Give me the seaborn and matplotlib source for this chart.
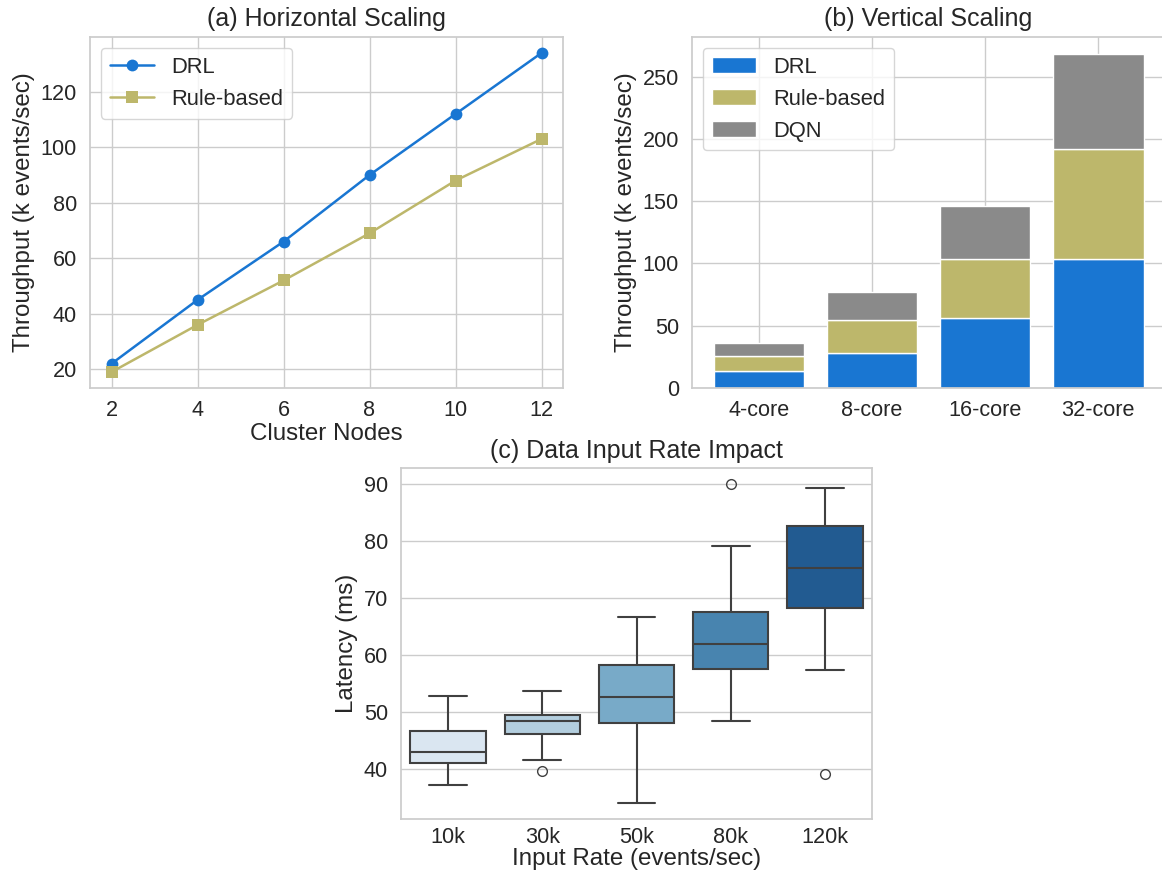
import numpy as np
import pandas as pd
import matplotlib
matplotlib.use("Agg")
import matplotlib.pyplot as plt
import seaborn as sns

# ---- data ----
nodes = [2, 4, 6, 8, 10, 12]
drl_h = [22, 45, 66, 90, 112, 134]
rule_h = [19, 36, 52, 69, 88, 103]

cores = ["4-core", "8-core", "16-core", "32-core"]
drl_v = [14, 28.5, 56, 104]
rule_v = [11.5, 26.5, 48, 88]
dqn_v = [10.5, 22, 42.5, 76.5]

rates = ["10k", "30k", "50k", "80k", "120k"]
lat_10k = [37.3, 39.5, 41.2, 42.0, 43.0, 45.0, 46.8, 50.0, 52.8]
lat_30k = [39.7, 41.6, 46.2, 47.5, 48.5, 49.0, 49.6, 51.5, 53.7]
lat_50k = [34.1, 44.0, 48.2, 50.5, 52.6, 55.5, 58.2, 62.0, 66.7]
lat_80k = [48.4, 53.0, 57.5, 60.0, 61.9, 65.0, 67.65, 79.1, 90.0]
lat_120k = [39.2, 57.4, 68.3, 72.0, 75.2, 79.0, 82.6, 86.0, 89.3]

c_drl = "#1976D2"
c_rule = "#BDB76B"
c_dqn = "#8A8A8A"

sns.set_theme(style="whitegrid", font_scale=1.4)
plt.rcParams["font.family"] = ["Liberation Sans", "DejaVu Sans"]
plt.rcParams["axes.labelsize"] = 17.4
plt.rcParams["axes.titlesize"] = 18
plt.rcParams["legend.fontsize"] = 15.8
plt.rcParams["xtick.labelsize"] = 15.6
plt.rcParams["ytick.labelsize"] = 15.6

W, H = 1162, 874
fig = plt.figure(figsize=(W / 100, H / 100), dpi=100)

def px_axes(l, t, r, b):
    return fig.add_axes([l / W, 1 - b / H, (r - l) / W, (b - t) / H])

ax1 = px_axes(90, 37, 563, 388)
ax2 = px_axes(692, 37, 1165, 388)
ax3 = px_axes(401, 468, 872, 819)

# (a) line plot
df_h = pd.DataFrame({"nodes": nodes, "drl": drl_h, "rule": rule_h})
sns.lineplot(data=df_h, x="nodes", y="drl", marker="o", color=c_drl,
             label="DRL", ax=ax1, markersize=8.5, markeredgewidth=0, linewidth=1.8)
sns.lineplot(data=df_h, x="nodes", y="rule", marker="s", color=c_rule,
             label="Rule-based", ax=ax1, markersize=8, markeredgewidth=0, linewidth=1.8)
ax1.set_xticks(nodes)
ax1.set_xlabel("Cluster Nodes", labelpad=1)
ax1.set_ylabel("Throughput (k events/sec)")
ax1.set_title("(a) Horizontal Scaling", pad=8)
ax1.tick_params(axis="x", pad=3)
ax1.legend(loc="upper left")

# (b) stacked bars
x = np.arange(len(cores))
b1 = np.array(drl_v)
b2 = b1 + np.array(rule_v)
ax2.bar(x, drl_v, width=0.8, color=c_drl, label="DRL")
ax2.bar(x, rule_v, width=0.8, bottom=b1, color=c_rule, label="Rule-based")
ax2.bar(x, dqn_v, width=0.8, bottom=b2, color=c_dqn, label="DQN")
ax2.set_xticks(x)
ax2.set_xticklabels(cores)
ax2.tick_params(axis="x", pad=3)
ax2.set_ylabel("Throughput (k events/sec)")
ax2.set_title("(b) Vertical Scaling", pad=8)
ax2.legend(loc="upper left")

# (c) box plot
groups = [lat_10k, lat_30k, lat_50k, lat_80k, lat_120k]
df_b = pd.DataFrame({
    "rate": np.repeat(rates, [len(g) for g in groups]),
    "latency": np.concatenate(groups),
})
sns.boxplot(data=df_b, x="rate", y="latency", hue="rate", order=rates,
            hue_order=rates, palette="Blues", legend=False, ax=ax3,
            linewidth=1.5, linecolor="#404040", fliersize=7)
ax3.tick_params(axis="x", pad=0)
ax3.set_xlabel("Input Rate (events/sec)", labelpad=0)
ax3.set_ylabel("Latency (ms)")
ax3.set_title("(c) Data Input Rate Impact", pad=7)

fig.savefig("out.png", dpi=100)
